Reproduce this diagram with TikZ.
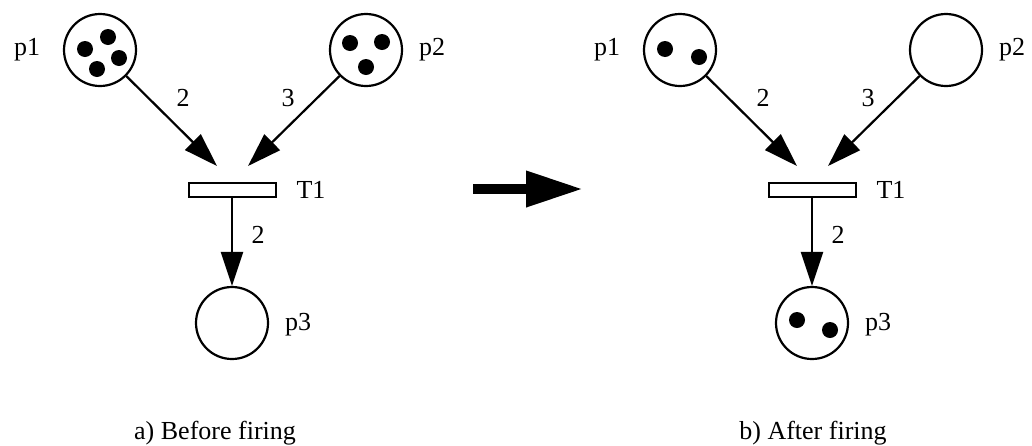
\documentclass[tikz,border=0pt]{standalone}
\usepackage{fontspec}
\setmainfont{Liberation Serif}
\usetikzlibrary{arrows.meta}
\begin{document}
\begin{tikzpicture}[x=1pt,y=-1pt,
  place/.style={circle,draw,line width=2.2pt,minimum size=72pt,inner sep=0pt},
  trans/.style={rectangle,draw,line width=2pt,minimum width=87pt,minimum height=14pt,inner sep=0pt},
  token/.style={circle,fill,minimum size=16pt,inner sep=0pt},
  arc/.style={line width=2.2pt,-{Triangle[length=34pt,width=22pt]}},
  lbl/.style={font=\fontsize{26}{31}\selectfont,inner sep=0pt},
]
\useasboundingbox (0,0) rectangle (1032,445);

% ---- net before firing ----
\node[place] (ap1) at (100,50) {};
\node[place] (ap2) at (366,50) {};
\node[trans] (aT1) at (232,190) {};
\node[place] (ap3) at (232,323) {};
\node[token] (ak1) at (85,49) {};
\node[token] (ak2) at (108,37) {};
\node[token] (ak3) at (119,58) {};
\node[token] (ak4) at (97,69) {};
\node[token] (ak5) at (350,43) {};
\node[token] (ak6) at (382,42) {};
\node[token] (ak7) at (366,67) {};
\coordinate (ain1) at (217,166);
\coordinate (ain2) at (248,166);
\draw[arc] (ap1) -- (ain1);
\draw[arc] (ap2) -- (ain2);
\draw[arc] (aT1) -- (ap3);
\node[lbl] (ap1l) at (27,50) {p1};
\node[lbl] (ap2l) at (432,50) {p2};
\node[lbl] (aT1l) at (311,190) {T1};
\node[lbl] (ap3l) at (298,325) {p3};
\node[lbl] (aw1) at (183,98) {2};
\node[lbl] (aw2) at (288,98) {3};
\node[lbl] (aw3) at (258,235) {2};
\node[lbl,anchor=base west] (acap) at (134,439) {a) Before firing};

% ---- firing arrow ----
\coordinate (fa) at (473,189);
\coordinate (fb) at (583,189);
\draw[line width=10pt,-{Triangle[length=57pt,width=34pt]}] (fa) -- (fb);

% ---- net after firing ----
\node[place] (bp1) at (680,50) {};
\node[place] (bp2) at (946,50) {};
\node[trans] (bT1) at (812,190) {};
\node[place] (bp3) at (812,323) {};
\node[token] (bk1) at (665,49) {};
\node[token] (bk2) at (699,57) {};
\node[token] (bk3) at (797,320) {};
\node[token] (bk4) at (830,330) {};
\coordinate (bin1) at (797,166);
\coordinate (bin2) at (828,166);
\draw[arc] (bp1) -- (bin1);
\draw[arc] (bp2) -- (bin2);
\draw[arc] (bT1) -- (bp3);
\node[lbl] (bp1l) at (607,50) {p1};
\node[lbl] (bp2l) at (1012,50) {p2};
\node[lbl] (bT1l) at (891,190) {T1};
\node[lbl] (bp3l) at (878,325) {p3};
\node[lbl] (bw1) at (763,98) {2};
\node[lbl] (bw2) at (868,98) {3};
\node[lbl] (bw3) at (838,235) {2};
\node[lbl,anchor=base] (bcap) at (813,439) {b) After firing};
\end{tikzpicture}
\end{document}
